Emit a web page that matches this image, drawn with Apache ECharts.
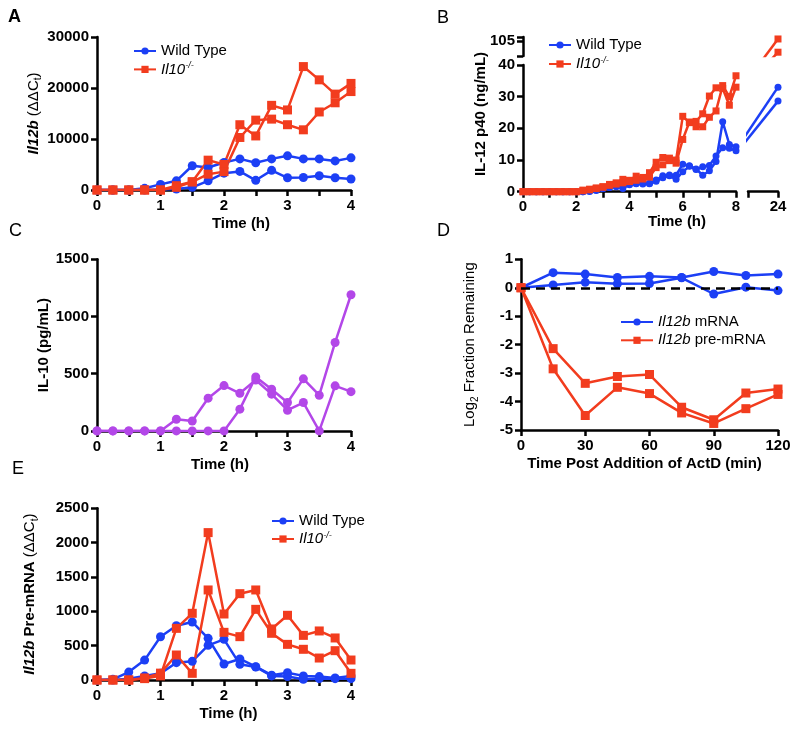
<!DOCTYPE html>
<html><head><meta charset="utf-8">
<script src="https://cdn.jsdelivr.net/npm/echarts@6/dist/echarts.min.js"></script>
<style>html,body{margin:0;padding:0;background:#fff}#c{width:800px;height:736px}</style>
</head><body><div id="c"></div>
<script>
const FONT = 'Arial, "Liberation Sans", Helvetica, sans-serif';
const BLUE = '#1c3ff5', RED = '#f23c1e', PURPLE = '#b347e8';

// ---- Panel A: Il12b mRNA ----
const aTime = [0,0.25,0.5,0.75,1,1.25,1.5,1.75,2,2.25,2.5,2.75,3,3.25,3.5,3.75,4];
const aWT1 = [0,0,0,330,1100,1800,4750,4400,5400,6100,5350,6100,6700,6100,6100,5700,6300];
const aWT2 = [0,0,0,0,100,200,520,1800,3300,3650,1900,3850,2400,2450,2800,2400,2150];
const aKO1 = [0,0,0,0,0,850,1600,5850,5000,12800,10600,16600,15700,24200,21600,18800,20900];
const aKO2 = [0,0,0,0,0,520,1600,3100,3600,10300,13700,13900,12800,11800,15300,17100,19300];

// ---- Panel B: IL-12 p40 ----
const bTime = [0,0.25,0.5,0.75,1,1.25,1.5,1.75,2,2.25,2.5,2.75,3,3.25,3.5,3.75,4,4.25,4.5,4.75,5,5.25,5.5,5.75,6,6.25,6.5,6.75,7,7.25,7.5,7.75,8];
const bWT1 = [0,0,0,0,0,0,0,0,0,0,0.2,0.5,1.0,1.4,1.8,1.9,2.4,2.7,2.9,2.7,3.7,5.0,5.3,5.2,8.7,8.2,7.2,5.2,6.6,9.5,22.1,14.9,14.2];
const bWT2 = [0,0,0,0,0,0,0,0,0,0,0.1,0.4,0.9,1.3,1.6,1.0,2.2,2.5,2.4,2.5,3.3,4.4,5.0,3.9,6.3,8.0,7.0,7.9,8.3,11.3,13.9,13.7,12.9];
const bKO1 = [0,0,0,0,0,0,0,0,0,0.5,0.8,1.2,1.6,2.3,2.8,3.9,3.6,4.9,4.5,6.0,9.3,10.8,10.6,10.0,23.8,21.8,22.2,24.6,30.2,32.8,32.6,27.3,33.0];
const bKO2 = [0,0,0,0,0,0,0,0,0,0.3,0.6,1.0,1.4,2.0,2.4,2.8,3.2,3.6,4.0,4.6,7.6,8.5,9.8,9.0,16.5,22.0,20.5,20.5,23.5,25.5,33.5,30.0,36.6];
const bLateTime = [8,24];
const bWT1Late = [14.2,33.0];
const bWT2Late = [12.9,28.6];
const bKO1Late = [33.0,90.0];
const bKO2Late = [36.6,107.4];

// ---- Panel C: IL-10 ----
const cTime = [0,0.25,0.5,0.75,1,1.25,1.5,1.75,2,2.25,2.5,2.75,3,3.25,3.5,3.75,4];
const cIL1 = [0,0,0,0,0,102,87,286,396,329,445,321,181,248,0,394,343];
const cIL2 = [0,0,0,0,0,0,0,0,0,190,472,364,248,455,312,773,1190];

// ---- Panel D: ActD chase ----
const dTime = [0,15,30,45,60,75,90,105,120];
const dM1 = [0,0.53,0.48,0.36,0.40,0.36,0.57,0.43,0.48];
const dM2 = [0,0.10,0.19,0.14,0.15,0.35,-0.22,0.02,-0.10];
const dP1 = [0,-2.14,-3.36,-3.12,-3.05,-4.20,-4.64,-3.70,-3.56];
const dP2 = [0,-2.85,-4.49,-3.50,-3.72,-4.40,-4.77,-4.25,-3.75];

// ---- Panel E: Il12b pre-mRNA ----
const eTime = [0,0.25,0.5,0.75,1,1.25,1.5,1.75,2,2.25,2.5,2.75,3,3.25,3.5,3.75,4];
const eWT1 = [0,10,115,290,630,790,845,607,233,306,194,70,107,60,50,30,60];
const eWT2 = [0,0,20,58,97,252,272,505,592,228,190,60,50,10,20,20,20];
const eKO1 = [0,0,0,20,60,752,971,2146,961,1257,1311,743,942,650,714,612,291];
const eKO2 = [0,0,0,30,100,364,97,1311,694,631,1029,680,519,447,320,427,97];

const KO = 'Il10-/-';
const WT = 'Wild Type';
const MRNA = 'Il12b mRNA';
const PRE = 'Il12b pre-mRNA';

const axLine = {show:true, onZero:false, lineStyle:{color:'#000', width:2.5}};
const axTick = {show:true, length:6, lineStyle:{color:'#000', width:2.5}};
const lblBase = {fontFamily:FONT, fontSize:15, fontWeight:'bold', color:'#000'};
const intFmt = v => Number.isInteger(v) ? String(v) : '';
const plainFmt = v => String(v);

const richName = {
  b:{fontFamily:FONT, fontSize:15, fontWeight:'bold', color:'#000', lineHeight:20, verticalAlign:'middle'},
  bi:{fontFamily:FONT, fontSize:15, fontWeight:'bold', fontStyle:'italic', color:'#000', lineHeight:20, verticalAlign:'middle'},
  n:{fontFamily:FONT, fontSize:15, fontWeight:'normal', color:'#000', lineHeight:20, verticalAlign:'middle'},
  sub:{fontFamily:FONT, fontSize:10, fontWeight:'normal', color:'#000', lineHeight:12, verticalAlign:'bottom'}
};
const titleStyle = pad => ({fontFamily:FONT, fontSize:15, fontWeight:'bold', color:'#000', lineHeight:20, padding:pad});

function xAx(grid, min, max, interval, fmt, extra) {
  return Object.assign({
    type:'value', gridIndex:grid, min, max, interval,
    axisLine:axLine, axisTick:axTick, splitLine:{show:false},
    axisLabel:Object.assign({margin:8, formatter:fmt}, lblBase)
  }, extra || {});
}
function yAx(grid, min, max, interval, extra) {
  return Object.assign({
    type:'value', gridIndex:grid, min, max, interval,
    axisLine:axLine, axisTick:axTick, splitLine:{show:false},
    axisLabel:Object.assign({margin:8, formatter:plainFmt}, lblBase)
  }, extra || {});
}
function line(name, idx, xs, ys, color, symbol, size, extra) {
  return Object.assign({
    type:'line', name, xAxisIndex:idx, yAxisIndex:idx,
    data: xs.map((x,i)=>[x, ys[i]]),
    symbol, symbolSize:size, clip:true,
    lineStyle:{color, width:2.5}, itemStyle:{color},
    emphasis:{disabled:true}
  }, extra || {});
}

const legendRich = {
  i:{fontFamily:FONT, fontSize:15, fontStyle:'italic', color:'#000', lineHeight:16},
  sup:{fontFamily:FONT, fontSize:9, fontStyle:'italic', color:'#000', verticalAlign:'top', lineHeight:9}
};
function legendFmt(n) {
  if (n === KO) return '{i|Il10}{sup|-/-}';
  if (n.indexOf('Il12b') === 0) return '{i|Il12b}' + n.slice(5);
  return n;
}
function legend(left, top, w, names, gap) {
  return {
    left, top, orient:'vertical', itemWidth:w, itemHeight:9, itemGap:gap,
    selectedMode:false, data:names, formatter:legendFmt,
    textStyle:{fontFamily:FONT, fontSize:15, color:'#000', lineHeight:16, rich:legendRich}
  };
}

const option = {
  animation:false,
  backgroundColor:'#fff',
  textStyle:{fontFamily:FONT},
  grid:[
    {left:97, top:37, width:254, height:153},      // 0 A
    {left:523, top:65, width:213, height:126.7},   // 1 B lower-left
    {left:748, top:65, width:30, height:126.7},    // 2 B lower-right
    {left:523, top:37, width:213, height:19},      // 3 B upper-left
    {left:748, top:37, width:30, height:19},       // 4 B upper-right
    {left:97, top:259.3, width:254, height:171.6}, // 5 C
    {left:521, top:259.3, width:257, height:170.7},// 6 D
    {left:97, top:508.3, width:254, height:171.7}  // 7 E
  ],
  xAxis:[
    xAx(0, 0, 4, 0.5, intFmt, {name:'Time (h)', nameLocation:'middle', nameGap:22, nameTextStyle:titleStyle([0,0,0,34])}),
    xAx(1, 0, 8, 1, v => v % 2 === 0 ? String(v) : ''),
    xAx(2, 12, 24, 12, v => v === 24 ? '24' : ''),
    xAx(3, 0, 8, 1, null, {show:false}),
    xAx(4, 12, 24, 12, null, {show:false}),
    xAx(5, 0, 4, 0.5, intFmt, {name:'Time (h)', nameLocation:'middle', nameGap:22, nameTextStyle:titleStyle([0,8,0,0])}),
    xAx(6, 0, 120, 30, plainFmt, {name:'Time Post Addition of ActD (min)', nameLocation:'middle', nameGap:22, nameTextStyle:titleStyle([0,10,0,0])}),
    xAx(7, 0, 4, 0.5, intFmt, {name:'Time (h)', nameLocation:'middle', nameGap:22, nameTextStyle:titleStyle([0,0,0,9])})
  ],
  yAxis:[
    yAx(0, 0, 30000, 10000, {name:'{bi|Il12b}{n| (ΔΔC}{sub|t}{n|)}', nameLocation:'middle', nameRotate:90, nameGap:46,
      nameTextStyle:{rich:richName}}),
    yAx(1, 0, 40, 10),
    yAx(2, 0, 40, 10, {show:false}),
    yAx(3, 85, 110, 5, {
      axisTick:Object.assign({customValues:[85,105,110]}, axTick),
      axisLabel:Object.assign({margin:8, customValues:[105], formatter:v => v === 105 ? '105' : ''}, lblBase)
    }),
    yAx(4, 85, 110, 5, {show:false}),
    yAx(5, 0, 1500, 500, {name:'{b|IL-10 (pg/mL)}', nameLocation:'middle', nameRotate:90, nameGap:43,
      nameTextStyle:{rich:richName}}),
    yAx(6, -5, 1, 1, {name:'{n|Log}{sub|2}{n| Fraction Remaining}', nameLocation:'middle', nameRotate:90, nameGap:41,
      nameTextStyle:{rich:richName}}),
    yAx(7, 0, 2500, 500, {name:'{bi|Il12b}{b| Pre-mRNA}{n| (ΔΔC}{sub|t}{n|)}', nameLocation:'middle', nameRotate:90, nameGap:57,
      nameTextStyle:{rich:richName}})
  ],
  legend:[
    legend(128, 38, 22, [WT, KO], 2.4),
    legend(543, 32, 22, [WT, KO], 3),
    legend(615, 309, 32, [MRNA, PRE], 2.3),
    legend(266, 508, 22, [WT, KO], 2)
  ],
  series:[
    // A
    line(WT, 0, aTime, aWT1, BLUE, 'circle', 9),
    line(WT, 0, aTime, aWT2, BLUE, 'circle', 9),
    line(KO, 0, aTime, aKO1, RED, 'rect', 9),
    line(KO, 0, aTime, aKO2, RED, 'rect', 9),
    // B lower-left
    line(WT, 1, bTime, bWT1, BLUE, 'circle', 7),
    line(WT, 1, bTime, bWT2, BLUE, 'circle', 7),
    line(KO, 1, bTime, bKO1, RED, 'rect', 7),
    line(KO, 1, bTime, bKO2, RED, 'rect', 7),
    // B right (after the axis break)
    line(WT, 2, bLateTime, bWT1Late, BLUE, 'circle', 7),
    line(WT, 2, bLateTime, bWT2Late, BLUE, 'circle', 7),
    line(KO, 4, bLateTime, bKO1Late, RED, 'rect', 7),
    line(KO, 4, bLateTime, bKO2Late, RED, 'rect', 7),
    // C
    line('IL-10', 5, cTime, cIL1, PURPLE, 'circle', 9),
    line('IL-10', 5, cTime, cIL2, PURPLE, 'circle', 9),
    // D
    line(MRNA, 6, dTime, dM1, BLUE, 'circle', 9, {
      markLine:{silent:true, symbol:'none', label:{show:false},
        lineStyle:{color:'#000', type:[9,6], width:2.5}, data:[{yAxis:0}], animation:false}
    }),
    line(MRNA, 6, dTime, dM2, BLUE, 'circle', 9),
    line(PRE, 6, dTime, dP1, RED, 'rect', 9),
    line(PRE, 6, dTime, dP2, RED, 'rect', 9),
    // E
    line(WT, 7, eTime, eWT1, BLUE, 'circle', 9),
    line(WT, 7, eTime, eWT2, BLUE, 'circle', 9),
    line(KO, 7, eTime, eKO1, RED, 'rect', 9),
    line(KO, 7, eTime, eKO2, RED, 'rect', 9)
  ],
  graphic:[
    {type:'text', left:8, top:8, style:{text:'A', font:'bold 18px ' + FONT, fill:'#000'}},
    {type:'text', left:437, top:9, style:{text:'B', font:'18px ' + FONT, fill:'#000'}},
    {type:'text', left:9, top:222, style:{text:'C', font:'18px ' + FONT, fill:'#000'}},
    {type:'text', left:437, top:222, style:{text:'D', font:'18px ' + FONT, fill:'#000'}},
    {type:'text', left:12, top:460, style:{text:'E', font:'18px ' + FONT, fill:'#000'}},
    {type:'text', x:481, y:114, rotation:Math.PI/2,
      style:{text:'IL-12 p40 (ng/mL)', font:'bold 15px ' + FONT, fill:'#000', align:'center', verticalAlign:'middle'}},
    {type:'text', x:677, y:222,
      style:{text:'Time (h)', font:'bold 15px ' + FONT, fill:'#000', align:'center', verticalAlign:'middle'}}
  ]
};

const chart = echarts.init(document.getElementById('c'), null, {renderer:'canvas'});
chart.setOption(option);
</script>
</body></html>
